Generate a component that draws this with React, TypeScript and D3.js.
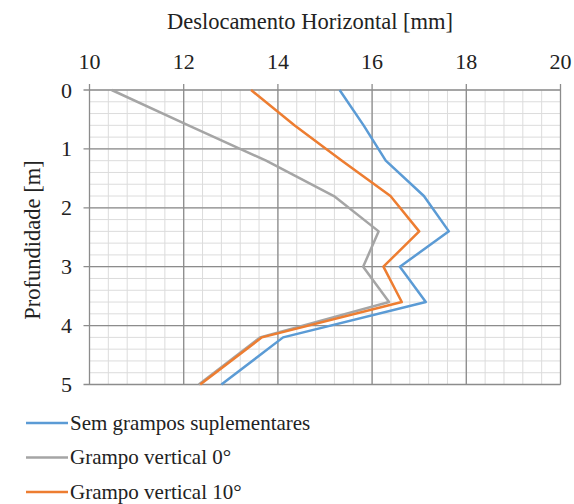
import React from "react";
import * as d3 from "d3";

// Depth of each reading [m]
const depths = [0, 0.6, 1.2, 1.8, 2.4, 3.0, 3.6, 4.2, 5.0];
// Horizontal displacement [mm] per series
const semGrampos = [15.31, 15.82, 16.29, 17.1, 17.63, 16.59, 17.14, 14.11, 12.8];
const grampo0 = [10.47, 12.1, 13.75, 15.19, 16.14, 15.81, 16.36, 13.62, 12.32];
const grampo10 = [13.43, 14.35, 15.36, 16.39, 17.0, 16.24, 16.63, 13.66, 12.35];

const seriesNames = ["Sem grampos suplementares", "Grampo vertical 0°", "Grampo vertical 10°"];
const seriesColors = ["#5B9BD5", "#A5A5A5", "#ED7D31"];
const seriesValues = [semGrampos, grampo0, grampo10];

const xTicks = [10, 12, 14, 16, 18, 20];
const yTicks = [0, 1, 2, 3, 4, 5];

const W = 574;
const H = 504;
const FONT = "'Liberation Serif', 'Times New Roman', serif";

export default function App() {
  const x = d3.scaleLinear().domain([10, 20]).range([89.5, 560.5]);
  const y = d3.scaleLinear().domain([0, 5]).range([90, 384.5]);

  const xMinor = d3.range(10, 20.001, 0.4);
  const yMinor = d3.range(0, 5.001, 0.2);

  const line = d3
    .line<[number, number]>()
    .x((d) => x(d[0]))
    .y((d) => y(d[1]));

  const drawOrder = [1, 2, 0];

  return (
    <svg
      width={W}
      height={H}
      style={{ position: "absolute", left: 0, top: 0, background: "#fff" }}
      fontFamily={FONT}
    >
      {/* minor grid */}
      {xMinor.map((v, i) => (
        <line key={"xm" + i} x1={x(v)} x2={x(v)} y1={y(0)} y2={y(5)} stroke="#dcdcdc" strokeWidth={1} />
      ))}
      {yMinor.map((v, i) => (
        <line key={"ym" + i} x1={x(10)} x2={x(20)} y1={y(v)} y2={y(v)} stroke="#dcdcdc" strokeWidth={1} />
      ))}
      {/* major grid + ticks */}
      {xTicks.map((v) => (
        <line key={"xM" + v} x1={x(v)} x2={x(v)} y1={y(0) - 6} y2={y(5)} stroke="#8c8c8c" strokeWidth={1.3} />
      ))}
      {yTicks.map((v) => (
        <line key={"yM" + v} x1={x(10) - 6} x2={x(20)} y1={y(v)} y2={y(v)} stroke="#8c8c8c" strokeWidth={1.3} />
      ))}

      {/* series */}
      {drawOrder.map((si) => (
        <path
          key={"s" + si}
          d={line(seriesValues[si].map((v, i) => [v, depths[i]] as [number, number])) || ""}
          fill="none"
          stroke={seriesColors[si]}
          strokeWidth={2.5}
          strokeLinejoin="round"
        />
      ))}

      {/* axis labels */}
      {xTicks.map((v) => (
        <text key={"xl" + v} x={x(v)} y={69} textAnchor="middle" fontSize={22} fill="#222">
          {v}
        </text>
      ))}
      {yTicks.map((v) => (
        <text key={"yl" + v} x={72} y={y(v) + 7.5} textAnchor="end" fontSize={22} fill="#222">
          {v}
        </text>
      ))}

      <text x={310} y={29} textAnchor="middle" fontSize={22.5} fill="#222">
        Deslocamento Horizontal [mm]
      </text>
      <text
        transform={`translate(40, 240) rotate(-90)`}
        textAnchor="middle"
        fontSize={22.5}
        fill="#222"
      >
        Profundidade [m]
      </text>

      {/* legend */}
      {seriesNames.map((name, i) => (
        <g key={"lg" + i} transform={`translate(26, ${423 + i * 34.5})`}>
          <line x1={0} x2={42} y1={0} y2={0} stroke={seriesColors[i]} strokeWidth={2.5} />
          <text x={44} y={6.5} fontSize={21} fill="#222">
            {name}
          </text>
        </g>
      ))}
    </svg>
  );
}
